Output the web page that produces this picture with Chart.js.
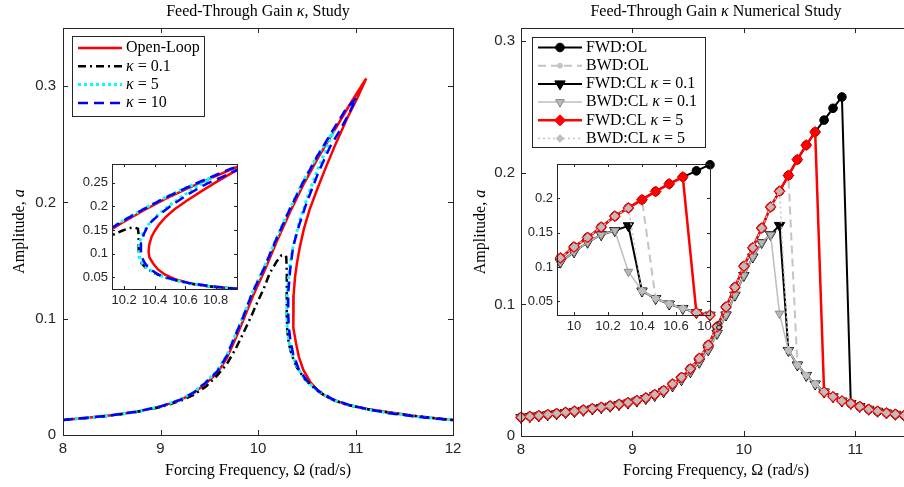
<!DOCTYPE html>
<html>
<head>
<meta charset="utf-8">
<title>Feed-Through Gain</title>
<script src="https://cdn.jsdelivr.net/npm/chart.js@4.4.1/dist/chart.umd.min.js"></script>
<style>
  html, body { margin: 0; padding: 0; background: #fff; width: 904px; height: 487px; overflow: hidden; position: relative; }
  canvas { position: absolute; }
</style>
</head>
<body>
<canvas id="leftMain" width="470" height="487" style="left:0;top:0"></canvas>
<canvas id="leftInset" width="190" height="165" style="left:60px;top:150px"></canvas>
<canvas id="rightMain" width="450" height="487" style="left:470px;top:0"></canvas>
<canvas id="rightInset" width="215" height="190" style="left:515px;top:150px"></canvas>
<script>
// LEFT PANEL - continuation curves (frequency, amplitude pairs, in path order)
const olFreq = [8.00, 8.25, 8.50, 8.75, 9.00, 9.20, 9.34, 9.46, 9.58, 9.68, 9.78, 9.86, 9.95, 10.07, 10.19, 10.33, 10.47, 10.62, 10.77, 10.94, 11.11,
  11.02, 10.91, 10.80, 10.70, 10.61, 10.53, 10.47, 10.43, 10.40, 10.38, 10.365, 10.36, 10.365, 10.39, 10.42, 10.465, 10.54, 10.64, 10.77, 10.91, 11.10, 11.35, 11.65, 12.00];
const olAmp = [0.0130, 0.0148, 0.0170, 0.0200, 0.0244, 0.0300, 0.0360, 0.0440, 0.0530, 0.0660, 0.0850, 0.1010, 0.1200, 0.1420, 0.1660, 0.1920, 0.2160, 0.2390, 0.2600, 0.2840, 0.3066,
  0.2900, 0.2716, 0.2510, 0.2310, 0.2120, 0.1940, 0.1770, 0.1620, 0.1480, 0.1360, 0.1200, 0.1050, 0.0920, 0.0790, 0.0670, 0.0560, 0.0450, 0.0360, 0.0300, 0.0260, 0.0225, 0.0195, 0.0160, 0.0130];

const k01Freq = [8.00, 8.25, 8.50, 8.75, 9.00, 9.20, 9.34, 9.47, 9.58, 9.68, 9.77, 9.85, 9.93, 9.99, 10.06, 10.12, 10.19, 10.24, 10.27, 10.29,
  10.295, 10.295, 10.295, 10.30, 10.315, 10.345, 10.40, 10.48, 10.60, 10.75, 10.93, 11.15, 11.40, 11.70, 12.00];
const k01Amp = [0.0130, 0.0147, 0.0168, 0.0197, 0.0240, 0.0292, 0.0345, 0.0420, 0.0510, 0.0610, 0.0740, 0.0877, 0.1020, 0.1135, 0.1260, 0.1390, 0.1490, 0.1545, 0.1550, 0.1530,
  0.1400, 0.1200, 0.1020, 0.0900, 0.0790, 0.0690, 0.0580, 0.0480, 0.0385, 0.0310, 0.0257, 0.0218, 0.0185, 0.0155, 0.0128];

const k5Freq = [8.00, 8.25, 8.50, 8.75, 9.00, 9.20, 9.34, 9.46, 9.58, 9.68, 9.77, 9.85, 9.94, 10.06, 10.18, 10.32, 10.46, 10.61, 10.78,
  10.72, 10.62, 10.52, 10.43, 10.36, 10.32, 10.30, 10.295, 10.30, 10.32, 10.355, 10.41, 10.49, 10.61, 10.76, 10.95, 11.15, 11.40, 11.70, 12.00];
const k5Amp = [0.0130, 0.0148, 0.0170, 0.0200, 0.0245, 0.0303, 0.0367, 0.0452, 0.0550, 0.0685, 0.0865, 0.1025, 0.1225, 0.1435, 0.1675, 0.1935, 0.2175, 0.2405, 0.2620,
  0.2500, 0.2300, 0.2080, 0.1850, 0.1620, 0.1420, 0.1220, 0.1050, 0.0920, 0.0790, 0.0680, 0.0570, 0.0470, 0.0380, 0.0305, 0.0252, 0.0215, 0.0182, 0.0152, 0.0128];

const k10Freq = [8.00, 8.25, 8.50, 8.75, 9.00, 9.20, 9.34, 9.46, 9.58, 9.68, 9.77, 9.85, 9.94, 10.06, 10.18, 10.32, 10.46, 10.61, 10.76, 10.90, 11.01,
  10.93, 10.84, 10.74, 10.62, 10.50, 10.42, 10.36, 10.33, 10.31, 10.31, 10.315, 10.335, 10.36, 10.42, 10.50, 10.62, 10.77, 10.95, 11.15, 11.35, 11.65, 12.00];
const k10Amp = [0.0130, 0.0148, 0.0170, 0.0200, 0.0245, 0.0302, 0.0365, 0.0448, 0.0545, 0.0680, 0.0860, 0.1020, 0.1220, 0.1430, 0.1670, 0.1930, 0.2170, 0.2400, 0.2610, 0.2800, 0.2900,
  0.2760, 0.2620, 0.2480, 0.2260, 0.2000, 0.1800, 0.1620, 0.1420, 0.1220, 0.1050, 0.0930, 0.0800, 0.0700, 0.0560, 0.0470, 0.0380, 0.0305, 0.0255, 0.0218, 0.0187, 0.0155, 0.0128];

const leftXTicks = [8, 9, 10, 11, 12];
const leftYTicks = [0, 0.1, 0.2, 0.3];
const leftInsetXTicks = [10.2, 10.4, 10.6, 10.8];
const leftInsetYTicks = [0.05, 0.1, 0.15, 0.2, 0.25];

// RIGHT PANEL - numerical sweeps (forward / backward)
const sweepFreq = [8.00, 8.08, 8.16, 8.24, 8.32, 8.40, 8.48, 8.56, 8.64, 8.72, 8.80, 8.88, 8.96, 9.04, 9.12, 9.20, 9.28, 9.36, 9.44, 9.52, 9.60, 9.68,
  9.76, 9.84, 9.92, 10.00, 10.08, 10.16, 10.24, 10.32, 10.40, 10.48, 10.56, 10.64, 10.72, 10.80, 10.88, 10.96, 11.04, 11.12, 11.20, 11.28, 11.36, 11.44, 11.52];
const fwdOL = [0.0142, 0.0149, 0.0155, 0.0163, 0.0171, 0.0180, 0.0189, 0.0198, 0.0208, 0.0218, 0.0229, 0.0241, 0.0254, 0.0270, 0.0290, 0.0315, 0.0345, 0.0395, 0.0445, 0.0510, 0.0590, 0.0690,
  0.0830, 0.0980, 0.1130, 0.1290, 0.1430, 0.1580, 0.1740, 0.1860, 0.1980, 0.2100, 0.2210, 0.2310, 0.2400, 0.2490, 0.2576, 0.0247, 0.0224, 0.0203, 0.0188, 0.0175, 0.0165, 0.0156, 0.0148];
const bwdOL = [0.0142, 0.0149, 0.0155, 0.0163, 0.0171, 0.0180, 0.0189, 0.0198, 0.0208, 0.0218, 0.0229, 0.0241, 0.0254, 0.0270, 0.0290, 0.0315, 0.0345, 0.0395, 0.0445, 0.0510, 0.0590, 0.0690,
  0.0830, 0.0980, 0.1130, 0.1290, 0.1430, 0.1580, 0.1740, 0.1860, 0.1980, 0.0540, 0.0460, 0.0395, 0.0335, 0.0298, 0.0266, 0.0247, 0.0224, 0.0203, 0.0188, 0.0175, 0.0165, 0.0156, 0.0148];
const fwdCL01 = [0.0140, 0.0147, 0.0153, 0.0161, 0.0169, 0.0178, 0.0186, 0.0195, 0.0205, 0.0215, 0.0226, 0.0238, 0.0250, 0.0265, 0.0284, 0.0307, 0.0336, 0.0380, 0.0428, 0.0488, 0.0560, 0.0655,
  0.0780, 0.0920, 0.1070, 0.1220, 0.1360, 0.1470, 0.1530, 0.1600, 0.0650, 0.0540, 0.0460, 0.0395, 0.0335, 0.0298, 0.0266, 0.0247, 0.0224, 0.0203, 0.0188, 0.0175, 0.0165, 0.0156, 0.0148];
const bwdCL01 = [0.0140, 0.0147, 0.0153, 0.0161, 0.0169, 0.0178, 0.0186, 0.0195, 0.0205, 0.0215, 0.0226, 0.0238, 0.0250, 0.0265, 0.0284, 0.0307, 0.0336, 0.0380, 0.0428, 0.0488, 0.0560, 0.0655,
  0.0780, 0.0920, 0.1070, 0.1220, 0.1360, 0.1470, 0.1530, 0.0930, 0.0650, 0.0540, 0.0460, 0.0395, 0.0335, 0.0298, 0.0266, 0.0247, 0.0224, 0.0203, 0.0188, 0.0175, 0.0165, 0.0156, 0.0148];
const fwdCL5 = [0.0142, 0.0149, 0.0155, 0.0163, 0.0171, 0.0180, 0.0189, 0.0198, 0.0208, 0.0218, 0.0229, 0.0241, 0.0254, 0.0270, 0.0290, 0.0315, 0.0345, 0.0395, 0.0445, 0.0510, 0.0590, 0.0690,
  0.0830, 0.0980, 0.1130, 0.1290, 0.1430, 0.1580, 0.1740, 0.1860, 0.1980, 0.2100, 0.2210, 0.2310, 0.0335, 0.0298, 0.0266, 0.0247, 0.0224, 0.0203, 0.0188, 0.0175, 0.0165, 0.0156, 0.0148];
const bwdCL5 = [0.0142, 0.0149, 0.0155, 0.0163, 0.0171, 0.0180, 0.0189, 0.0198, 0.0208, 0.0218, 0.0229, 0.0241, 0.0254, 0.0270, 0.0290, 0.0315, 0.0345, 0.0395, 0.0445, 0.0510, 0.0590, 0.0690,
  0.0830, 0.0980, 0.1130, 0.1290, 0.1430, 0.1580, 0.1740, 0.1860, 0.0650, 0.0540, 0.0460, 0.0395, 0.0335, 0.0298, 0.0266, 0.0247, 0.0224, 0.0203, 0.0188, 0.0175, 0.0165, 0.0156, 0.0148];

const rightXTicks = [8, 9, 10, 11];
const rightYTicks = [0, 0.1, 0.2, 0.3];
const rightInsetXTicks = [10, 10.2, 10.4, 10.6, 10.8];
const rightInsetYTicks = [0.05, 0.1, 0.15, 0.2];

const SERIF = '"Liberation Serif", "Times New Roman", serif';
const SANS = '"Liberation Sans", Arial, sans-serif';
const AXIS = '#262626';

// text with italic pieces, e.g. [['Amplitude, ', 0], ['a', 1]]
function drawRich(ctx, parts, x, y, size, align) {
  const fonts = parts.map(p => (p[1] ? 'italic ' : '') + size + 'px ' + SERIF);
  const widths = parts.map((p, i) => { ctx.font = fonts[i]; return ctx.measureText(p[0]).width; });
  const total = widths.reduce((a, b) => a + b, 0);
  let cx = align === 'center' ? x - total / 2 : x;
  ctx.textAlign = 'left';
  ctx.textBaseline = 'middle';
  parts.forEach((p, i) => { ctx.font = fonts[i]; ctx.fillText(p[0], cx, y); cx += widths[i]; });
}

function drawMarker(ctx, m, x, y) {
  if (!m) return;
  ctx.save();
  ctx.setLineDash([]);
  ctx.fillStyle = m.fill;
  ctx.strokeStyle = m.stroke;
  ctx.lineWidth = 1;
  ctx.beginPath();
  const r = m.radius;
  if (m.style === 'circle') {
    ctx.arc(x, y, r, 0, Math.PI * 2);
  } else if (m.style === 'triangle') {
    ctx.moveTo(x, y + r);
    ctx.lineTo(x - r * 0.866, y - r / 2);
    ctx.lineTo(x + r * 0.866, y - r / 2);
  } else {
    ctx.moveTo(x, y - r); ctx.lineTo(x + r, y); ctx.lineTo(x, y + r); ctx.lineTo(x - r, y);
  }
  ctx.closePath();
  ctx.fill();
  ctx.stroke();
  ctx.restore();
}

// MATLAB-like axes box, inward ticks, titles and legend
const matlabAxes = {
  id: 'matlabAxes',
  beforeDatasetsDraw(chart) {
    const { ctx, chartArea: a } = chart;
    ctx.save();
    ctx.fillStyle = '#fff';
    ctx.fillRect(a.left, a.top, a.right - a.left, a.bottom - a.top);
    ctx.restore();
  },
  afterDraw(chart, args, o) {
    const { ctx, chartArea: a, scales } = chart;
    const t = o.tick || 4;
    ctx.save();
    ctx.strokeStyle = AXIS;
    ctx.lineWidth = 1;
    ctx.beginPath();
    scales.x.ticks.forEach(k => {
      const p = Math.round(scales.x.getPixelForValue(k.value)) + 0.5;
      ctx.moveTo(p, a.bottom); ctx.lineTo(p, a.bottom - t);
      ctx.moveTo(p, a.top); ctx.lineTo(p, a.top + t);
    });
    scales.y.ticks.forEach(k => {
      const p = Math.round(scales.y.getPixelForValue(k.value)) + 0.5;
      ctx.moveTo(a.left, p); ctx.lineTo(a.left + t, p);
      ctx.moveTo(a.right, p); ctx.lineTo(a.right - t, p);
    });
    ctx.stroke();
    ctx.strokeRect(Math.round(a.left) + 0.5, Math.round(a.top) + 0.5, Math.round(a.right - a.left), Math.round(a.bottom - a.top));

    ctx.fillStyle = '#000';
    const mid = (a.left + a.right) / 2;
    if (o.title) drawRich(ctx, o.title, mid, 12, 16, 'center');
    if (o.xTitle) drawRich(ctx, o.xTitle, mid, 471, 16, 'center');
    if (o.yTitle) {
      ctx.save();
      ctx.translate(o.yTitleX, (a.top + a.bottom) / 2);
      ctx.rotate(-Math.PI / 2);
      drawRich(ctx, o.yTitle, 0, 0, 16, 'center');
      ctx.restore();
    }

    const lg = o.legend;
    if (lg) {
      ctx.fillStyle = '#fff';
      ctx.fillRect(lg.x, lg.y, lg.w, lg.h);
      ctx.strokeStyle = AXIS;
      ctx.strokeRect(lg.x + 0.5, lg.y + 0.5, lg.w, lg.h);
      lg.items.forEach((it, i) => {
        const yy = lg.y + lg.first + i * lg.row;
        ctx.save();
        ctx.strokeStyle = it.color;
        ctx.lineWidth = it.width;
        ctx.setLineDash(it.dash || []);
        ctx.beginPath();
        ctx.moveTo(lg.x + 6, yy);
        ctx.lineTo(lg.x + 50, yy);
        ctx.stroke();
        ctx.restore();
        drawMarker(ctx, it.marker, lg.x + 28, yy);
        ctx.fillStyle = '#000';
        drawRich(ctx, it.label, lg.x + 54, yy, 16, 'left');
      });
    }
    ctx.restore();
  }
};

function axisScale(min, max, ticks, size, fit, isX, pad) {
  return {
    type: 'linear', min: min, max: max,
    grid: { display: false, drawTicks: false },
    border: { display: false },
    afterBuildTicks: s => { s.ticks = ticks.map(v => ({ value: v })); },
    afterFit: s => { if (isX) s.height = fit; else s.width = fit; },
    ticks: {
      autoSkip: false, maxRotation: 0, padding: pad, color: AXIS,
      font: { family: SANS, size: size },
      callback: v => String(v)
    }
  };
}

function baseOptions(pad, xs, ys, plug) {
  return {
    responsive: false, animation: false, devicePixelRatio: 1, events: [],
    layout: { padding: pad },
    scales: { x: xs, y: ys },
    plugins: { legend: { display: false }, tooltip: { enabled: false }, title: { display: false }, matlabAxes: plug }
  };
}

function pairs(fx, fy) {
  return fx.map((v, i) => ({ x: v, y: fy[i] }));
}

// left curves
const leftLines = [
  { label: 'Open-Loop', text: [['Open-Loop', 0]], fx: olFreq, fy: olAmp, color: '#ff0000', width: 2.5, dash: [] },
  { label: 'kappa = 0.1', text: [['κ', 1], [' = 0.1', 0]], fx: k01Freq, fy: k01Amp, color: '#000000', width: 2.5, dash: [8, 4, 2, 4] },
  { label: 'kappa = 5', text: [['κ', 1], [' = 5', 0]], fx: k5Freq, fy: k5Amp, color: '#00ffff', width: 3, dash: [3, 3] },
  { label: 'kappa = 10', text: [['κ', 1], [' = 10', 0]], fx: k10Freq, fy: k10Amp, color: '#0000ff', width: 2.5, dash: [10, 6] }
];

function leftDatasets() {
  return leftLines.map((s, i) => ({
    label: s.label, data: pairs(s.fx, s.fy), showLine: true,
    borderColor: s.color, borderWidth: s.width, borderDash: s.dash, borderCapStyle: 'butt',
    pointRadius: 0, tension: 0, order: leftLines.length - i
  }));
}

// right sweeps
const rightSeries = [
  { label: 'FWD:OL', text: [['FWD:OL', 0]], amp: fwdOL, color: '#000000', width: 2, dash: [],
    marker: { style: 'circle', radius: 4.3, fill: '#000000', stroke: '#000000' } },
  { label: 'BWD:OL', text: [['BWD:OL', 0]], amp: bwdOL, color: '#c4c4c4', width: 2, dash: [8, 5],
    marker: { style: 'circle', radius: 2.5, fill: '#c4c4c4', stroke: '#c4c4c4' } },
  { label: 'FWD:CL 0.1', text: [['FWD:CL ', 0], ['κ', 1], [' = 0.1', 0]], amp: fwdCL01, color: '#000000', width: 2, dash: [],
    marker: { style: 'triangle', radius: 6, fill: '#000000', stroke: '#000000' } },
  { label: 'BWD:CL 0.1', text: [['BWD:CL ', 0], ['κ', 1], [' = 0.1', 0]], amp: bwdCL01, color: '#bdbdbd', width: 1.5, dash: [],
    marker: { style: 'triangle', radius: 5, fill: '#b8b8b8', stroke: '#8a8a8a' } },
  { label: 'FWD:CL 5', text: [['FWD:CL ', 0], ['κ', 1], [' = 5', 0]], amp: fwdCL5, color: '#ff0000', width: 2.5, dash: [],
    marker: { style: 'diamond', radius: 5.5, fill: '#ff0000', stroke: '#ff0000' } },
  { label: 'BWD:CL 5', text: [['BWD:CL ', 0], ['κ', 1], [' = 5', 0]], amp: bwdCL5, color: '#c4c4c4', width: 1.5, dash: [2, 3],
    marker: { style: 'diamond', radius: 3.8, fill: '#bdbdbd', stroke: '#bdbdbd' } }
];

const pointStyles = { circle: ['circle', 0], triangle: ['triangle', 180], diamond: ['rectRot', 0] };

function rightDatasets(fMin, fMax) {
  return rightSeries.map((s, i) => {
    const pts = pairs(sweepFreq, s.amp).filter(p => p.x >= fMin - 1e-9 && p.x <= fMax + 1e-9);
    const ps = pointStyles[s.marker.style];
    return {
      label: s.label, data: pts, showLine: true, clip: false,
      borderColor: s.color, borderWidth: s.width, borderDash: s.dash, borderCapStyle: 'butt',
      pointStyle: ps[0], rotation: ps[1], pointRadius: s.marker.radius,
      pointBackgroundColor: s.marker.fill, pointBorderColor: s.marker.stroke, pointBorderWidth: 1,
      tension: 0, order: rightSeries.length - i
    };
  });
}

// LEFT MAIN
new Chart(document.getElementById('leftMain'), {
  type: 'scatter',
  data: { datasets: leftDatasets() },
  plugins: [matlabAxes],
  options: baseOptions({ top: 28, right: 17, left: 0, bottom: 0 },
    axisScale(8, 12, leftXTicks, 15, 52, true, 5),
    axisScale(0, 0.35, leftYTicks, 15, 63, false, 7),
    {
      tick: 5,
      title: [['Feed-Through Gain ', 0], ['κ', 1], [', Study', 0]],
      xTitle: [['Forcing Frequency, Ω (rad/s)', 0]],
      yTitle: [['Amplitude, ', 0], ['a', 1]], yTitleX: 20,
      legend: { x: 72, y: 36, w: 132, h: 80, first: 12, row: 18.3,
        items: leftLines.map(s => ({ label: s.text, color: s.color, width: s.width, dash: s.dash })) }
    })
});

// LEFT INSET
new Chart(document.getElementById('leftInset'), {
  type: 'scatter',
  data: { datasets: leftDatasets() },
  plugins: [matlabAxes],
  options: baseOptions({ top: 14, right: 13, left: 0, bottom: 0 },
    axisScale(10.12, 10.94, leftInsetXTicks, 13, 26, true, 4),
    axisScale(0.025, 0.29, leftInsetYTicks, 13, 52, false, 4),
    { tick: 3 })
});

// RIGHT MAIN
new Chart(document.getElementById('rightMain'), {
  type: 'scatter',
  data: { datasets: rightDatasets(8, 11.6) },
  plugins: [matlabAxes],
  options: baseOptions({ top: 28, right: 9, left: 0, bottom: 0 },
    axisScale(8, 11.5, rightXTicks, 15, 51, true, 5),
    axisScale(0, 0.31, rightYTicks, 15, 51, false, 6),
    {
      tick: 5,
      title: [['Feed-Through Gain ', 0], ['κ', 1], [' Numerical Study', 0]],
      xTitle: [['Forcing Frequency, Ω (rad/s)', 0]],
      yTitle: [['Amplitude, ', 0], ['a', 1]], yTitleX: 11,
      legend: { x: 62, y: 37, w: 173, h: 110, first: 10.5, row: 18.2,
        items: rightSeries.map(s => ({ label: s.text, color: s.color, width: s.width, dash: s.dash, marker: s.marker })) }
    })
});

// RIGHT INSET
new Chart(document.getElementById('rightInset'), {
  type: 'scatter',
  data: { datasets: rightDatasets(9.9, 10.8) },
  plugins: [matlabAxes],
  options: baseOptions({ top: 14, right: 20, left: 0, bottom: 0 },
    axisScale(9.9, 10.8, rightInsetXTicks, 13, 25, true, 4),
    axisScale(0.03, 0.25, rightInsetYTicks, 13, 42, false, 4),
    { tick: 3 })
});
</script>
</body>
</html>
